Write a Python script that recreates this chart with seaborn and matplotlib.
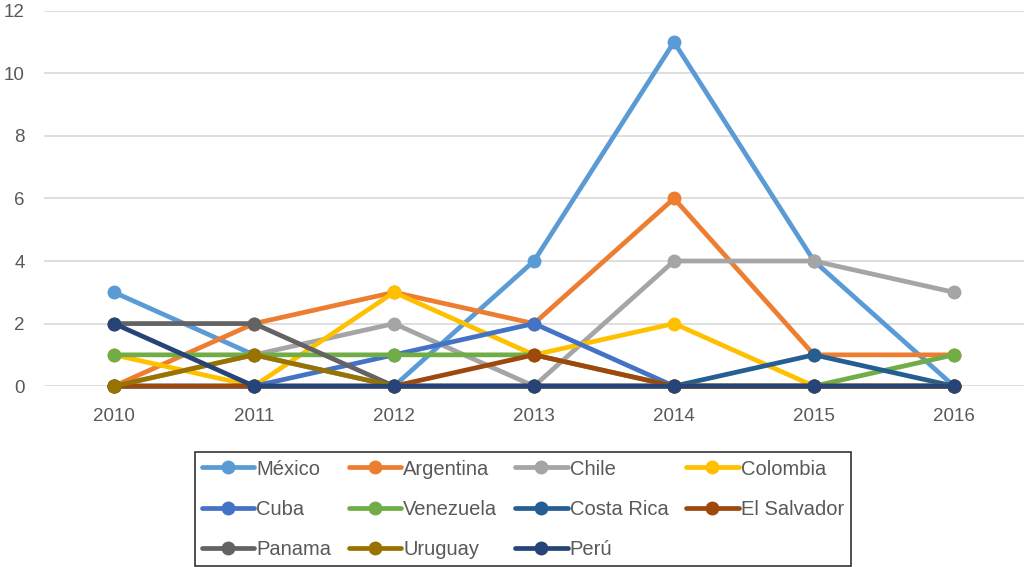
import pandas as pd
import matplotlib.pyplot as plt
import seaborn as sns

# Values per country, 2010-2016
years = ['2010', '2011', '2012', '2013', '2014', '2015', '2016']
countries = ['México', 'Argentina', 'Chile', 'Colombia', 'Cuba', 'Venezuela',
             'Costa Rica', 'El Salvador', 'Panama', 'Uruguay', 'Perú']
mexico = [3, 1, 0, 4, 11, 4, 0]
argentina = [0, 2, 3, 2, 6, 1, 1]
chile = [0, 1, 2, 0, 4, 4, 3]
colombia = [1, 0, 3, 1, 2, 0, 0]
cuba = [0, 0, 1, 2, 0, 0, 0]
venezuela = [1, 1, 1, 1, 0, 0, 1]
costa_rica = [0, 0, 0, 0, 0, 1, 0]
el_salvador = [0, 0, 0, 1, 0, 0, 0]
panama = [2, 2, 0, 0, 0, 0, 0]
uruguay = [0, 1, 0, 0, 0, 0, 0]
peru = [2, 0, 0, 0, 0, 0, 0]
colors = ['#5B9BD5', '#ED7D31', '#A5A5A5', '#FFC000', '#4472C4', '#70AD47',
          '#255E91', '#9E480E', '#636363', '#997300', '#264478']

series = [mexico, argentina, chile, colombia, cuba, venezuela,
          costa_rica, el_salvador, panama, uruguay, peru]
rows = []
for name, vals in zip(countries, series):
    for i, v in enumerate(vals):
        rows.append({'pos': i, 'value': v, 'country': name})
df = pd.DataFrame(rows)

sns.set_style('white')
plt.rcParams['font.family'] = ['Liberation Sans', 'DejaVu Sans']

fig = plt.figure(figsize=(10.24, 5.67), dpi=100)
ax = fig.add_axes([0.043, 0.319, 0.957, 0.662])

sns.lineplot(data=df, x='pos', y='value', hue='country', hue_order=countries,
             palette=colors, marker='o', markersize=10, markeredgewidth=0,
             linewidth=3.4, ax=ax, legend=True)
for ln in ax.lines:
    ln.set_clip_on(False)

ax.set_xlim(-0.5, 6.5)
ax.set_ylim(0, 12)
ax.set_xticks(range(len(years)))
ax.set_xticklabels(years)
ax.set_yticks(range(0, 13, 2))
ax.grid(axis='y', color='#D9D9D9', linewidth=1.2)
ax.set_axisbelow(True)
for s in ax.spines.values():
    s.set_visible(False)
ax.tick_params(axis='both', length=0, labelsize=13.5, labelcolor='#595959')
ax.tick_params(axis='x', pad=16)
ax.tick_params(axis='y', pad=14)
ax.set_xlabel('')
ax.set_ylabel('')

# legend: reorder so entries read row by row, as in the original
handles, labels = ax.get_legend_handles_labels()
ax.get_legend().remove()
ncol = 4
order = [i for c in range(ncol) for i in range(c, len(labels), ncol)]
leg = fig.legend([handles[i] for i in order], [labels[i] for i in order],
                 ncol=ncol, loc='lower left',
                 bbox_to_anchor=(0.19, 0.002, 0.641, 0.2), mode='expand',
                 fontsize=14.5, frameon=True, fancybox=False,
                 edgecolor='black', handlelength=2.6, handletextpad=0.1,
                 labelspacing=1.05, borderpad=0.35, borderaxespad=0,
                 columnspacing=0.3)
leg.get_frame().set_linewidth(1.2)
for t in leg.get_texts():
    t.set_color('#595959')

fig.savefig('out.png', dpi=100)
